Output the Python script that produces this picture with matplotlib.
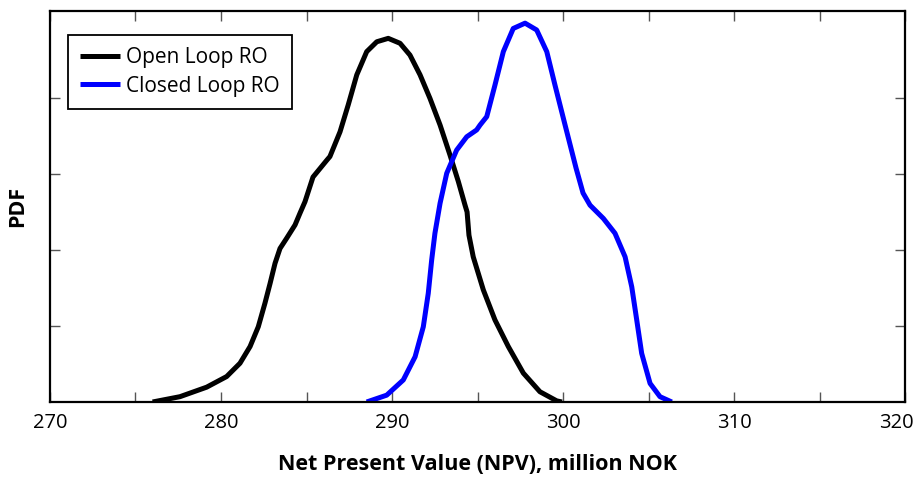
import matplotlib
matplotlib.use('Agg')
import matplotlib.pyplot as plt
from matplotlib.ticker import MultipleLocator, FuncFormatter
from matplotlib.transforms import ScaledTranslation

plt.rcParams['font.family'] = ['Open Sans', 'DejaVu Sans']

# Open loop RO, NPV (million NOK) vs PDF
open_npv = [276.0, 277.6, 279.16, 280.33, 281.11, 281.7, 282.18, 282.57, 282.87, 283.16,
            283.45, 283.84, 284.33, 284.62, 284.91, 285.38, 286.2, 286.37, 286.96, 287.44,
            287.94, 288.52, 289.11, 289.78, 290.47, 291.05, 291.64, 292.22, 292.81, 293.39,
            293.88, 294.27, 294.39, 294.5, 294.75, 295.34, 296.02, 296.8, 297.68, 298.65,
            299.63, 299.94]
open_pdf = [0.0, 0.0014, 0.0039, 0.0067, 0.0102, 0.0146, 0.0198, 0.026, 0.0312, 0.0365,
            0.0404, 0.0431, 0.0466, 0.0497, 0.0527, 0.0592, 0.0637, 0.0646, 0.0711, 0.0782,
            0.0861, 0.0922, 0.0948, 0.0957, 0.0944, 0.0913, 0.0861, 0.0799, 0.0729, 0.065,
            0.058, 0.0518, 0.05, 0.0439, 0.0382, 0.0295, 0.0216, 0.0146, 0.0076, 0.0027,
            0.0003, 0.0]

# Closed loop RO
closed_npv = [288.52, 289.69, 290.66, 291.35, 291.83, 292.12, 292.32, 292.51, 292.81, 293.2,
              293.78, 294.37, 294.95, 295.15, 295.54, 296.02, 296.51, 297.09, 297.78, 298.46,
              299.05, 299.53, 300.12, 300.76, 301.17, 301.58, 302.36, 303.04, 303.63, 304.02,
              304.31, 304.6, 305.09, 305.67, 306.36]
closed_pdf = [0.0, 0.0018, 0.0058, 0.0119, 0.0198, 0.0286, 0.0374, 0.0444, 0.0523, 0.0602,
              0.0663, 0.0698, 0.0716, 0.0729, 0.0751, 0.0834, 0.0922, 0.0983, 0.0997, 0.0979,
              0.0922, 0.0834, 0.0729, 0.0616, 0.055, 0.0518, 0.0483, 0.0444, 0.0382, 0.0303,
              0.0216, 0.0128, 0.0049, 0.0014, 0.0]

fig = plt.figure(figsize=(9.19, 4.78), dpi=100)
ax = fig.add_axes([0.0544, 0.159, 0.9304, 0.818])

ax.plot(open_npv, open_pdf, color='black', lw=3.6, label='Open Loop RO',
        solid_capstyle='butt', solid_joinstyle='round')
ax.plot(closed_npv, closed_pdf, color='blue', lw=3.6, label='Closed Loop RO',
        solid_capstyle='butt', solid_joinstyle='round')

ax.set_xlim(270, 320)
ax.set_ylim(0, 0.1029)
ax.xaxis.set_major_locator(MultipleLocator(5))
ax.xaxis.set_major_formatter(FuncFormatter(lambda v, p: '%d' % v if v % 10 == 0 else ''))
ax.set_yticks([0.02, 0.04, 0.06, 0.08])
ax.set_yticklabels([])
ax.tick_params(direction='in', length=7, width=1, color='#555555',
               top=True, right=True, labelsize=14.5, pad=8)
for s in ax.spines.values():
    s.set_linewidth(1.6)

ax.set_xlabel('Net Present Value (NPV), million NOK', fontsize=15.5, fontweight='bold', labelpad=15)
ax.set_ylabel('PDF', fontsize=15.5, fontweight='bold', labelpad=8)

leg = ax.legend(loc='upper left', bbox_to_anchor=(0.021, 0.939), fontsize=15,
                handlelength=1.9, handletextpad=0.3, borderpad=0.6,
                borderaxespad=0, fancybox=False, framealpha=1, labelspacing=0.35)
leg.get_frame().set_edgecolor('black')
leg.get_frame().set_linewidth(1.3)

# last label sits a bit left of its tick so it stays inside the figure
fig.canvas.draw()
for t in ax.xaxis.get_major_ticks():
    if abs(t.get_loc() - 320) < 1e-6:
        t.label1.set_transform(t.label1.get_transform() + ScaledTranslation(-0.09, 0, fig.dpi_scale_trans))

plt.savefig('out.png', dpi=100)
